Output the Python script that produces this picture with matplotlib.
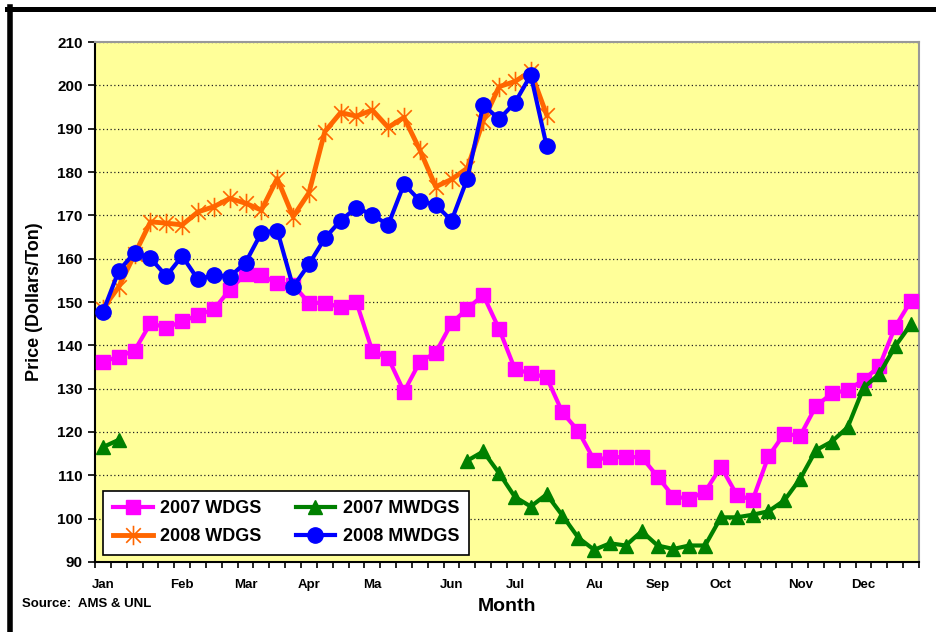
import numpy as np
import matplotlib
matplotlib.use('Agg')
import matplotlib.pyplot as plt
from matplotlib.path import Path
from matplotlib.lines import Line2D

plt.rcParams['font.family'] = ['Liberation Sans', 'DejaVu Sans']
plt.rcParams['font.weight'] = 'bold'

## data (weekly prices, $/ton)
nan = np.nan
weeks = np.arange(52)
month_names = ['Jan', 'Feb', 'Mar', 'Apr', 'Ma', 'Jun', 'Jul', 'Au', 'Sep', 'Oct', 'Nov', 'Dec']
month_weeks = [0, 5, 9, 13, 17, 22, 26, 31, 35, 39, 44, 48]

wdgs_2007 = [136.2, 137.4, 138.8, 145.1, 144.1, 145.5, 147.0, 148.3, 152.8, 156.5,
             156.2, 154.3, 154.0, 149.8, 149.8, 148.8, 149.9, 138.7, 137.1, 129.3,
             136.2, 138.3, 145.1, 148.5, 151.6, 143.8, 134.5, 133.5, 132.6, 124.5,
             120.2, 113.5, 114.2, 114.2, 114.2, 109.7, 105.1, 104.6, 106.2, 112.0,
             105.5, 104.3, 114.4, 119.6, 119.1, 126.0, 128.9, 129.7, 132.0, 135.2,
             144.3, 150.3]

mwdgs_2007 = [116.5, 118.2] + [nan] * 21 + \
             [113.4, 115.5, 110.5, 105.0, 102.8, 105.6, 100.7, 95.6, 92.8, 94.3,
              93.8, 97.1, 93.8, 93.0, 93.8, 93.8, 100.3, 100.3, 100.9, 101.7,
              104.2, 109.2, 115.8, 117.8, 121.1, 130.2, 133.4, 139.8, 144.9]

wdgs_2008 = [148.5, 153.5, 161.0, 168.5, 168.2, 167.8, 170.8, 172.0, 173.9, 172.8,
             171.2, 178.5, 169.7, 175.2, 189.3, 193.7, 192.9, 194.3, 190.3, 192.6,
             185.1, 176.6, 178.3, 180.9, 191.8, 199.7, 200.9, 203.2, 193.2] + [nan] * 23

mwdgs_2008 = [147.7, 157.2, 161.4, 160.1, 156.0, 160.6, 155.2, 156.2, 155.8, 159.1,
              166.0, 166.5, 153.5, 158.7, 164.7, 168.8, 171.8, 170.1, 167.8, 177.2,
              173.4, 172.4, 168.8, 178.5, 195.5, 192.2, 196.0, 202.4, 186.0] + [nan] * 23

# Excel style asterisk: X plus vertical bar
star = Path([(0, -1), (0, 1), (-0.75, -0.75), (0.75, 0.75), (-0.75, 0.75), (0.75, -0.75)],
            [Path.MOVETO, Path.LINETO, Path.MOVETO, Path.LINETO, Path.MOVETO, Path.LINETO])

fig = plt.figure(figsize=(9.37, 6.32), dpi=100)
ax = fig.add_axes([0.1014, 0.1108, 0.8794, 0.8227])
ax.set_facecolor('#FFFF99')

ax.plot(weeks, wdgs_2007, '-s', color='#FF00FF', lw=3, ms=10, label='2007 WDGS', zorder=3)
ax.plot(weeks, mwdgs_2007, '-^', color='#008000', lw=3, ms=10, label='2007 MWDGS', zorder=4)
ax.plot(weeks, wdgs_2008, '-', color='#FF6600', lw=3.5, marker=star, ms=14, mew=1.2,
        mfc='none', mec='#FF6600', label='2008 WDGS', zorder=5)
ax.plot(weeks, mwdgs_2008, '-o', color='#0000FF', lw=3, ms=11, label='2008 MWDGS', zorder=6)

ax.set_xlim(-0.5, 51.5)
ax.set_ylim(90, 210)
ax.set_yticks(np.arange(90, 211, 10))
ax.tick_params(axis='y', labelsize=11, length=5, width=1.2, direction='out', pad=4)

# tick marks between weeks, month names at their weeks
ax.set_xticks(np.arange(-0.5, 52, 1))
ax.set_xticklabels([])
ax.set_xticks(month_weeks, minor=True)
ax.set_xticklabels(month_names, minor=True)
ax.tick_params(axis='x', which='major', length=4, width=1.2, direction='out')
ax.tick_params(axis='x', which='minor', length=0, labelsize=9.5, pad=12)

ax.grid(axis='y', color='#222222', linestyle=(0, (1, 2)), lw=0.9)
ax.spines['left'].set_linewidth(1.5)
ax.spines['bottom'].set_linewidth(1.5)
ax.spines['top'].set_color('#999999')
ax.spines['right'].set_color('#999999')
ax.spines['top'].set_linewidth(1.5)
ax.spines['right'].set_linewidth(1.5)

ax.set_ylabel('Price (Dollars/Ton)', fontsize=13, fontweight='bold', labelpad=10)
fig.text(0.541, 0.041, 'Month', fontsize=14, fontweight='bold', ha='center', va='center')
fig.text(0.0235, 0.044, 'Source:  AMS & UNL', fontsize=9.5, fontweight='bold', ha='left', va='center')

h, l = ax.get_legend_handles_labels()
order = [0, 2, 1, 3]
leg = ax.legend([h[i] for i in order], [l[i] for i in order], ncol=2, loc='lower left',
                bbox_to_anchor=(0.0097, 0.013), borderaxespad=0, fontsize=13, frameon=True,
                fancybox=False, edgecolor='black', framealpha=1, handlelength=2.2,
                columnspacing=1.9, labelspacing=0.6, borderpad=0.55, handletextpad=0.4)
leg.get_frame().set_linewidth(1.2)
leg.set_zorder(10)

# black frame lines along top and left of the picture
fig.add_artist(Line2D([7 / 937, 1], [1 - 9 / 632, 1 - 9 / 632], color='black', lw=3.6,
                      transform=fig.transFigure))
fig.add_artist(Line2D([10 / 937, 10 / 937], [0, 1 - 7 / 632], color='black', lw=4,
                      transform=fig.transFigure))

fig.savefig('out.png', dpi=100)
